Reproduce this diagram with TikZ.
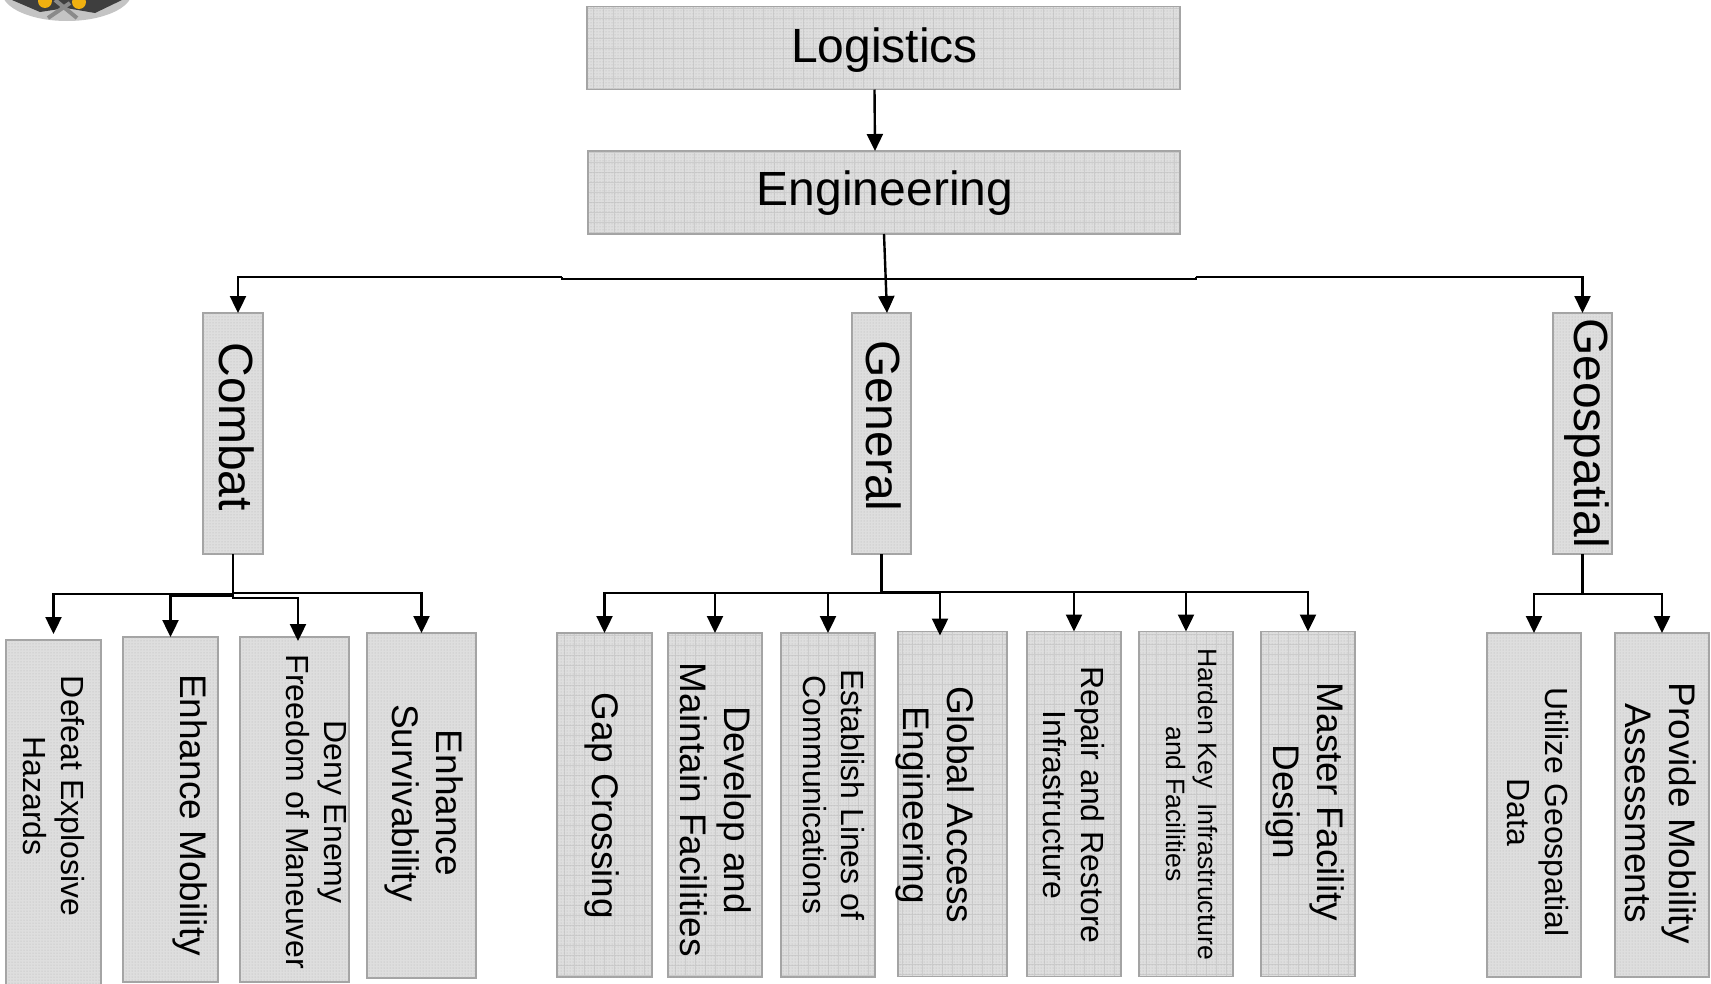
\documentclass[tikz,border=0pt]{standalone}
\usepackage{fontspec}
\setmainfont{Liberation Sans}
\usetikzlibrary{arrows.meta,patterns}
\definecolor{boxgray}{HTML}{DEDEDE}
\definecolor{edgegray}{HTML}{A4A4A4}
\definecolor{gridgray}{HTML}{CCCCCC}
\definecolor{dotgray}{HTML}{B4B4B4}
\definecolor{logodark}{HTML}{3E3E3E}
\definecolor{logolight}{HTML}{C4C4C4}
\definecolor{logobar}{HTML}{8A8A8A}
\definecolor{logoyellow}{HTML}{F0B010}
\tikzset{
    dotbox/.style={draw=edgegray,line width=1.2pt,fill=boxgray,inner sep=0,outer sep=0,
        postaction={pattern=dots,pattern color=dotgray}},
    gridbox/.style={dotbox,path picture={
        \draw[gridgray,line width=.7pt,step=10pt]
            (path picture bounding box.south west) grid (path picture bounding box.north east);}},
    headtext/.style={inner sep=0,font=\fontsize{48}{56}\selectfont},
    bigleaf/.style={inner sep=0,rotate=-90,align=center,font=\fontsize{37}{44}\selectfont},
    midleaf/.style={inner sep=0,rotate=-90,align=center,font=\fontsize{32}{38}\selectfont},
    tinyleaf/.style={inner sep=0,rotate=-90,align=center,font=\fontsize{26.6}{32}\selectfont},
    conn/.style={line width=2.4pt,line join=miter},
    connarrow/.style={conn,-{Triangle[length=17pt,width=16pt]}}
}
\begin{document}
\begin{tikzpicture}[x=1pt,y=-1pt]
\useasboundingbox (0,0) rectangle (1711,983);
\begin{scope}
\clip (0,0) rectangle (1711,983);
\fill[logolight] (67,-8) ellipse (65 and 29);
\fill[logodark] (12,0) -- (40,12) -- (66,8) -- (95,13) -- (122,0) -- cycle;
\draw[logobar,line width=4pt] (55,0) -- (77,18);
\draw[logobar,line width=4pt] (70,3) -- (48,18);
\fill[logoyellow] (45,1) circle (7);
\fill[logoyellow] (79,2) circle (7);
\end{scope}
\node[gridbox,minimum width=593,minimum height=83] (log) at (883.5,48) {};
\node[gridbox,minimum width=592,minimum height=83] (eng) at (884,192.5) {};
\node[dotbox,minimum width=60,minimum height=241] (comb) at (233,433.5) {};
\node[dotbox,minimum width=59,minimum height=241] (genl) at (881.5,433.5) {};
\node[dotbox,minimum width=59,minimum height=241] (geo) at (1582.5,433.5) {};
\node[dotbox,minimum width=95,minimum height=345] (def) at (53.5,812.5) {};
\node[dotbox,minimum width=95,minimum height=345] (mob) at (170.5,809.5) {};
\node[dotbox,minimum width=109,minimum height=345] (deny) at (294.5,809.5) {};
\node[dotbox,minimum width=109,minimum height=345] (surv) at (421.5,805.5) {};
\node[gridbox,minimum width=95,minimum height=344] (gap) at (604.5,805) {};
\node[gridbox,minimum width=94,minimum height=344] (dev) at (715,805) {};
\node[gridbox,minimum width=94,minimum height=344] (est) at (828,805) {};
\node[gridbox,minimum width=109,minimum height=345] (glob) at (952.5,804) {};
\node[gridbox,minimum width=94,minimum height=345] (rep) at (1074,804) {};
\node[gridbox,minimum width=94,minimum height=345] (hard) at (1186,804) {};
\node[gridbox,minimum width=94,minimum height=345] (mast) at (1308,804) {};
\node[dotbox,minimum width=94,minimum height=344] (util) at (1534,805) {};
\node[dotbox,minimum width=94,minimum height=344] (prov) at (1662,805) {};
\node[headtext] (logt) at (884.5,50) {Logistics};
\node[headtext] (engt) at (885,193.5) {Engineering};
\node[headtext,rotate=-90] (combt) at (236.5,427) {Combat};
\node[headtext,rotate=-90] (genlt) at (884,426) {General};
\node[headtext,rotate=-90] (geot) at (1587,433) {Geospatial};
\node[midleaf] (deft) at (54,796) {Defeat Explosive\\Hazards};
\node[bigleaf] (mobt) at (190.5,815) {Enhance Mobility};
\node[midleaf] (denyt) at (316.5,812) {Deny Enemy\\Freedom of Maneuver};
\node[bigleaf] (survt) at (424,803) {Enhance\\Survivability};
\node[bigleaf] (gapt) at (602,806) {Gap Crossing};
\node[bigleaf] (devt) at (715.5,810) {Develop and\\Maintain Facilities};
\node[midleaf] (estt) at (833.5,795) {Establish Lines of\\Communications};
\node[bigleaf] (globt) at (935.5,805) {Global Access\\Engineering};
\node[midleaf] (rept) at (1074,805) {Repair and Restore\\Infrastructure};
\node[tinyleaf] (hardt) at (1192,804) {Harden Key\ \ Infrastructure\\and Facilities};
\node[bigleaf] (mastt) at (1305,802) {Master Facility\\Design};
\node[midleaf] (utilt) at (1538,812) {Utilize Geospatial\\Data};
\node[bigleaf] (provt) at (1660.5,813) {Provide Mobility\\Assessments};
\draw[connarrow] ([xshift=-9]log.south) -- ([xshift=-9]eng.north);
\draw[connarrow] (eng.south) -- ([xshift=5.5]genl.north);
\coordinate (stepl) at (562,277);
\coordinate (stepr) at (1196,277);
\coordinate (stepa) at (562,279);
\coordinate (stepb) at (1196,279);
\draw[connarrow] (stepl) -| ([xshift=5]comb.north);
\draw[connarrow] (stepr) -| (geo.north);
\draw[conn] (stepl) -- (stepa) -- (stepb) -- (stepr);
\draw[connarrow,shorten >=6] (comb.south) -- ++(0,40) -| (def.north);
\draw[connarrow] (comb.south) -- ++(0,42) -| (mob.north);
\draw[connarrow,shorten >=-4] (comb.south) -- ++(0,44) -| ([xshift=3.5]deny.north);
\draw[connarrow] (comb.south) -- ++(0,39) -| (surv.north);
\draw[connarrow] (genl.south) -- ++(0,39) -| (gap.north);
\draw[connarrow] (genl.south) -- ++(0,39) -| (dev.north);
\draw[connarrow] (genl.south) -- ++(0,39) -| (est.north);
\draw[connarrow,shorten >=-4] (genl.south) -- ++(0,39) -| ([xshift=-12.5]glob.north);
\draw[connarrow] (genl.south) -- ++(0,38) -| (rep.north);
\draw[connarrow] (genl.south) -- ++(0,38) -| (hard.north);
\draw[connarrow] (genl.south) -- ++(0,38) -| (mast.north);
\draw[connarrow] (geo.south) -- ++(0,40) -| (util.north);
\draw[connarrow] (geo.south) -- ++(0,40) -| (prov.north);
\end{tikzpicture}
\end{document}
